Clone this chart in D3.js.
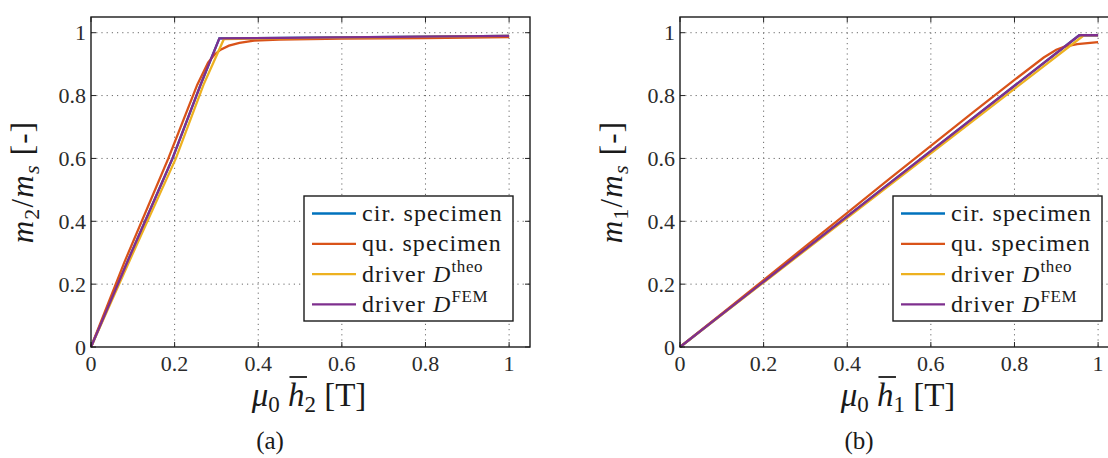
<!DOCTYPE html>
<html>
<head>
<meta charset="utf-8">
<script src="https://cdn.jsdelivr.net/npm/d3@7"></script>
<style>
  html, body { margin: 0; padding: 0; background: #fff; }
  svg { display: block; }
</style>
</head>
<body>
<svg id="chart" width="1108" height="458" font-family="'Liberation Serif', 'DejaVu Serif', 'Times New Roman', serif"></svg>
<script>
// ---- data -------------------------------------------------------------
const seriesNames = ["cir. specimen", "qu. specimen", "driver D^theo", "driver D^FEM"];
const seriesColors = ["#0072BD", "#D95319", "#EDB120", "#7E2F8E"];

const xTicks = [0, 0.2, 0.4, 0.6, 0.8, 1];
const yTicks = [0, 0.2, 0.4, 0.6, 0.8, 1];
const tickLabels = ["0", "0.2", "0.4", "0.6", "0.8", "1"];

// panel (a): m2/ms versus mu0*h2
const aCir = [[0, 0], [0.09, 0.28], [0.195, 0.6], [0.262, 0.834], [0.307, 0.982], [1, 0.99]];
const aQu = [[0, 0], [0.08, 0.27], [0.185, 0.6], [0.254, 0.834], [0.28, 0.905], [0.295, 0.93],
             [0.31, 0.946], [0.33, 0.959], [0.355, 0.968], [0.39, 0.975], [0.45, 0.978],
             [0.6, 0.981], [0.8, 0.983], [1, 0.986]];
const aTheo = [[0, 0], [0.093, 0.277], [0.203, 0.6], [0.269, 0.834], [0.318, 0.98], [1, 0.99]];
const aFem = [[0, 0], [0.09, 0.28], [0.195, 0.6], [0.262, 0.834], [0.307, 0.982], [1, 0.99]];

// panel (b): m1/ms versus mu0*h1
const bCir = [[0, 0], [0.955, 0.992], [1, 0.992]];
const bQu = [[0, 0], [0.1, 0.106], [0.2, 0.213], [0.3, 0.32], [0.4, 0.427], [0.5, 0.534],
             [0.6, 0.64], [0.7, 0.746], [0.8, 0.85], [0.87, 0.921], [0.9, 0.946],
             [0.92, 0.956], [0.95, 0.964], [1, 0.97]];
const bTheo = [[0, 0], [0.966, 0.992], [1, 0.992]];
const bFem = [[0, 0], [0.955, 0.992], [1, 0.992]];

const panels = [
  { left: 91, xVar: "2", yIdx: "2", caption: "(a)", series: [aCir, aQu, aTheo, aFem] },
  { left: 680, xVar: "1", yIdx: "1", caption: "(b)", series: [bCir, bQu, bTheo, bFem] }
];

// ---- drawing ----------------------------------------------------------
const svg = d3.select("#chart");
const plotTop = 17, plotBottom = 347, plotW = 439;

panels.forEach(p => {
  const x = d3.scaleLinear().domain([0, 1.05]).range([p.left, p.left + plotW]);
  const y = d3.scaleLinear().domain([0, 1.05]).range([plotBottom, plotTop]);
  const g = svg.append("g");

  // dotted grid
  g.append("g").selectAll("line").data(xTicks.slice(1)).join("line")
    .attr("x1", d => x(d)).attr("x2", d => x(d)).attr("y1", plotTop).attr("y2", plotBottom)
    .attr("stroke", "#6a6a6a").attr("stroke-width", 1).attr("stroke-dasharray", "1.2,4");
  g.append("g").selectAll("line").data(yTicks.slice(1)).join("line")
    .attr("x1", p.left).attr("x2", p.left + plotW).attr("y1", d => y(d)).attr("y2", d => y(d))
    .attr("stroke", "#6a6a6a").attr("stroke-width", 1).attr("stroke-dasharray", "1.2,4");

  // curves
  const line = d3.line().x(d => x(d[0])).y(d => y(d[1]));
  p.series.forEach((s, i) => {
    g.append("path").datum(s).attr("d", line)
      .attr("fill", "none").attr("stroke", seriesColors[i])
      .attr("stroke-width", 2.3).attr("stroke-linejoin", "miter");
  });

  // inward ticks on all four sides
  const tl = 5;
  const tickG = g.append("g").attr("stroke", "#222").attr("stroke-width", 1);
  xTicks.forEach(t => {
    tickG.append("line").attr("x1", x(t)).attr("x2", x(t)).attr("y1", plotBottom).attr("y2", plotBottom - tl);
    tickG.append("line").attr("x1", x(t)).attr("x2", x(t)).attr("y1", plotTop).attr("y2", plotTop + tl);
  });
  yTicks.forEach(t => {
    tickG.append("line").attr("x1", p.left).attr("x2", p.left + tl).attr("y1", y(t)).attr("y2", y(t));
    tickG.append("line").attr("x1", p.left + plotW).attr("x2", p.left + plotW - tl).attr("y1", y(t)).attr("y2", y(t));
  });

  // axes box
  g.append("rect").attr("x", p.left).attr("y", plotTop).attr("width", plotW).attr("height", plotBottom - plotTop)
    .attr("fill", "none").attr("stroke", "#1a1a1a").attr("stroke-width", 1.4);

  // tick labels
  g.append("g").selectAll("text").data(xTicks).join("text")
    .attr("x", d => x(d)).attr("y", 371).attr("text-anchor", "middle")
    .attr("font-size", 22).attr("fill", "#2b2b2b")
    .text((d, i) => tickLabels[i]);
  g.append("g").selectAll("text").data(yTicks).join("text")
    .attr("x", p.left - 5).attr("y", d => y(d) + 7.5).attr("text-anchor", "end")
    .attr("font-size", 22).attr("fill", "#2b2b2b")
    .text((d, i) => tickLabels[i]);

  // x-axis label: mu_0 h-bar_k [T]
  const cx = p.left + 218;
  const xl = g.append("text").attr("x", cx).attr("y", 406).attr("text-anchor", "middle")
    .attr("font-size", 33).attr("fill", "#1a1a1a");
  xl.append("tspan").attr("font-style", "italic").text("μ");
  xl.append("tspan").attr("font-size", 23).attr("dy", 6).text("0");
  xl.append("tspan").attr("dy", -6).text(" ");
  xl.append("tspan").attr("font-style", "italic").text("h");
  xl.append("tspan").attr("font-size", 23).attr("dy", 6).text(p.xVar);
  xl.append("tspan").attr("dy", -6).text(" [T]");
  const hExt = xl.node().getExtentOfChar(3);
  g.append("line")
    .attr("x1", hExt.x + 1.5).attr("x2", hExt.x + hExt.width + 2.5)
    .attr("y1", 377).attr("y2", 377)
    .attr("stroke", "#1a1a1a").attr("stroke-width", 1.8);

  // y-axis label: m_k / m_s [-]
  const yl = g.append("text")
    .attr("transform", `translate(${p.left - 58},${(plotTop + plotBottom) / 2}) rotate(-90)`)
    .attr("text-anchor", "middle").attr("font-size", 31).attr("fill", "#1a1a1a")
    .attr("letter-spacing", 1.2);
  yl.append("tspan").attr("font-style", "italic").text("m");
  yl.append("tspan").attr("font-size", 22).attr("dy", 6).text(p.yIdx);
  yl.append("tspan").attr("dy", -6).text("/");
  yl.append("tspan").attr("font-style", "italic").text("m");
  yl.append("tspan").attr("font-size", 22).attr("font-style", "italic").attr("dy", 6).text("s");
  yl.append("tspan").attr("dy", -6).text(" [-]");

  // caption
  g.append("text").attr("x", p.left + 179).attr("y", 449).attr("text-anchor", "middle")
    .attr("font-size", 25).attr("fill", "#1a1a1a").text(p.caption);

  // legend
  const lgX = p.left + plotW - 17 - 209, lgY = 196;
  const lg = g.append("g");
  lg.append("rect").attr("x", lgX).attr("y", lgY).attr("width", 209).attr("height", 125)
    .attr("fill", "#fff").attr("stroke", "#1a1a1a").attr("stroke-width", 1.4);
  seriesNames.forEach((name, i) => {
    const ry = lgY + 17.5 + i * 30.3;
    lg.append("line").attr("x1", lgX + 8).attr("x2", lgX + 52).attr("y1", ry).attr("y2", ry)
      .attr("stroke", seriesColors[i]).attr("stroke-width", 2.3);
    const t = lg.append("text").attr("x", lgX + 58).attr("y", ry + 7.5)
      .attr("font-size", 24).attr("fill", "#1a1a1a").attr("letter-spacing", 1.1);
    const parts = name.split("^");
    if (parts.length === 1) {
      t.text(name);
    } else {
      const base = parts[0];
      t.append("tspan").text(base.slice(0, -1) + " ");
      t.append("tspan").attr("font-style", "italic").text(base.slice(-1));
      t.append("tspan").attr("font-size", 17).attr("dy", -10).attr("letter-spacing", 0.6).text(parts[1]);
    }
  });
});
</script>
</body>
</html>
